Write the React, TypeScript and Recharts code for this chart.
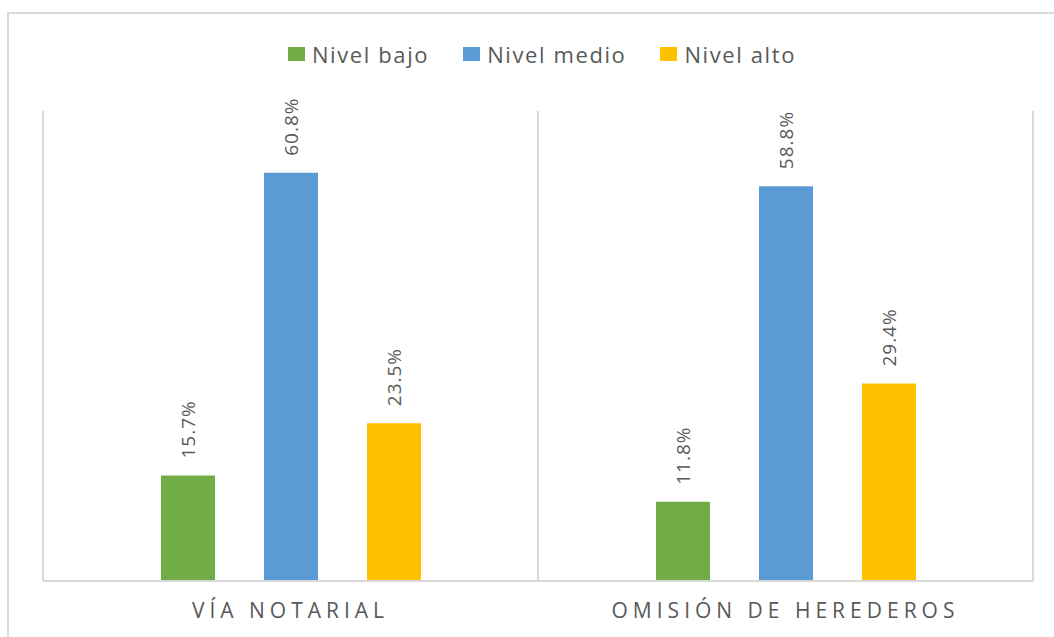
import { BarChart, Bar, XAxis, YAxis, CartesianGrid, Legend, LabelList } from 'recharts'

const categories = ['VÍA NOTARIAL', 'OMISIÓN DE HEREDEROS']
const nivelBajo = [15.7, 11.8]
const nivelMedio = [60.8, 58.8]
const nivelAlto = [23.5, 29.4]

const SERIES = [
  { key: 'bajo', name: 'Nivel bajo', color: '#70AD47' },
  { key: 'medio', name: 'Nivel medio', color: '#5B9BD5' },
  { key: 'alto', name: 'Nivel alto', color: '#FFC000' },
]

const data = categories.map((cat, i) => ({
  cat,
  bajo: nivelBajo[i],
  medio: nivelMedio[i],
  alto: nivelAlto[i],
}))

const FONT = '"Open Sans", sans-serif'
const GREY = '#595959'
const LINE = '#d9d9d9'

function renderLabel(props: any) {
  const { x, y, width, value } = props
  const cx = x + width / 2
  const ty = y - 17
  return (
    <text
      x={cx}
      y={ty}
      transform={`rotate(-90 ${cx} ${ty})`}
      textAnchor="start"
      dominantBaseline="central"
      fontFamily={FONT}
      fontSize={19}
      letterSpacing={1}
      fill={GREY}
    >
      {`${Number(value).toFixed(1)}%`}
    </text>
  )
}

function CategoryTick(props: any) {
  const { x, y, payload } = props
  return (
    <text
      x={x}
      y={y + 29}
      textAnchor="middle"
      fontFamily={FONT}
      fontSize={21}
      letterSpacing={5}
      fill={GREY}
    >
      {payload.value}
    </text>
  )
}

function LegendContent() {
  return (
    <div
      style={{
        height: 40,
        display: 'flex',
        justifyContent: 'center',
        alignItems: 'center',
        paddingLeft: 8,
        fontFamily: FONT,
        fontSize: 22,
        letterSpacing: 1.6,
        color: GREY,
      }}
    >
      {SERIES.map((s, i) => (
        <div key={s.key} style={{ display: 'flex', alignItems: 'center', marginLeft: i === 0 ? 0 : 34 }}>
          <span style={{ width: 17, height: 14, background: s.color, display: 'inline-block', marginRight: 7 }} />
          <span>{s.name}</span>
        </div>
      ))}
    </div>
  )
}

export default function App() {
  return (
    <div style={{ position: 'fixed', left: 0, top: 0, width: 1054, height: 637, background: '#fff' }}>
      <div
        style={{
          position: 'absolute',
          left: 7,
          top: 12,
          width: 1054,
          height: 637,
          borderTop: `2px solid ${LINE}`,
          borderLeft: `2px solid ${LINE}`,
        }}
      />
      <div style={{ position: 'absolute', left: 0, top: 0 }}>
        <BarChart
          width={1054}
          height={637}
          data={data}
          margin={{ top: 71, right: 21, bottom: 0, left: 43 }}
          barSize={54}
          barGap={49}
          barCategoryGap={117}
        >
          <CartesianGrid
            horizontal={false}
            stroke={LINE}
            strokeWidth={2}
            verticalCoordinatesGenerator={({ offset }: any) =>
              categories.map((_, i) => offset.left + (i * offset.width) / categories.length).concat(offset.left + offset.width)
            }
          />
          <XAxis
            dataKey="cat"
            axisLine={{ stroke: LINE, strokeWidth: 2 }}
            tickLine={false}
            height={56}
            tick={<CategoryTick />}
          />
          <YAxis hide domain={[0, 70]} />
          <Legend verticalAlign="top" wrapperStyle={{ top: 34 }} content={<LegendContent />} />
          {SERIES.map(s => (
            <Bar key={s.key} dataKey={s.key} name={s.name} fill={s.color} isAnimationActive={false}>
              <LabelList dataKey={s.key} content={renderLabel} />
            </Bar>
          ))}
        </BarChart>
      </div>
    </div>
  )
}
